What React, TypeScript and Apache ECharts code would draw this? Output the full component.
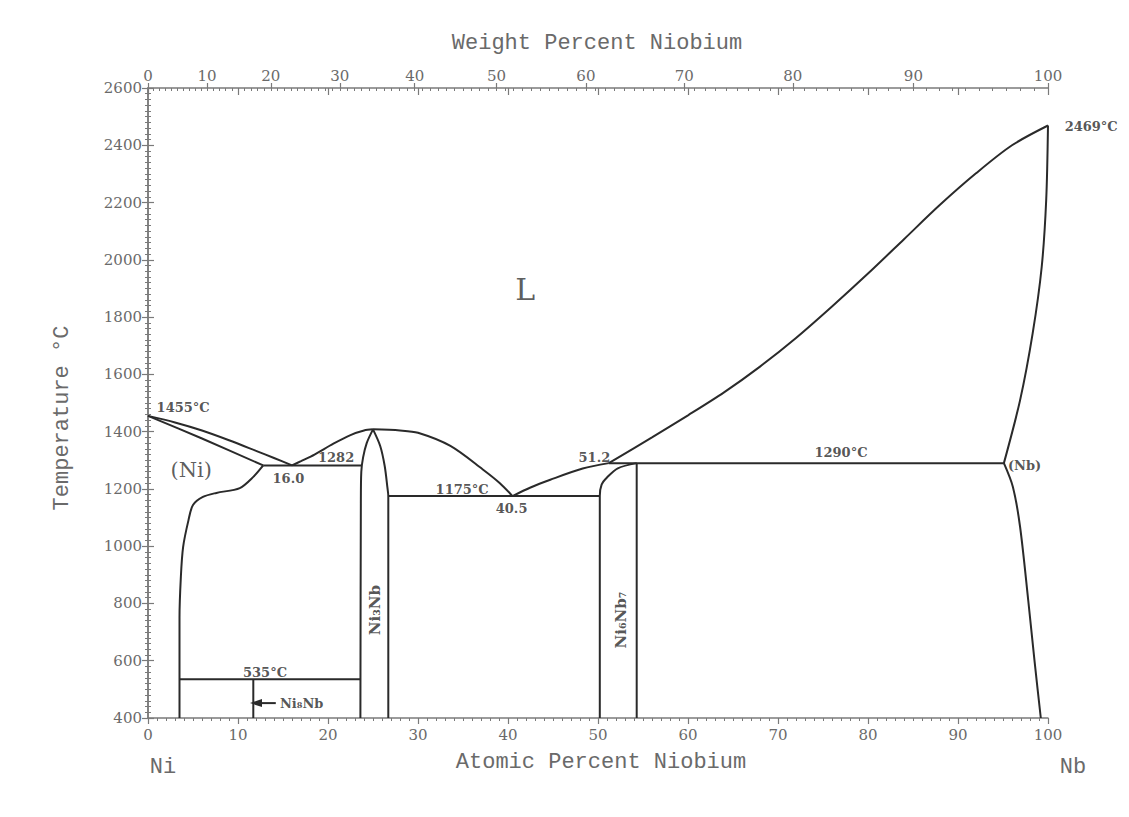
import React, { useEffect, useRef } from "react";
import * as echarts from "echarts";

// Ni–Nb binary phase diagram: temperature (°C) against atomic percent niobium.

const M_NB = 92.906;
const M_NI = 58.693;
// weight % Nb -> atomic % Nb (used to place the top weight-percent scale)
const wtToAt = (w: number) => (100 * (w / M_NB)) / (w / M_NB + (100 - w) / M_NI);

const weightTickLabels = [0, 10, 20, 30, 40, 50, 60, 70, 80, 90, 100];
const weightMinorTicks = Array.from({ length: 99 }, (_, i) => i + 1);

// Phase boundaries, [atomic % Nb, °C]
const liquidusNi = [[0, 1455], [3, 1432], [6, 1404], [9, 1370], [12, 1333], [14, 1308], [16, 1282]];
const solidusNi = [[0, 1455], [6, 1376], [12.8, 1282]];
const solvusNi = [[12.8, 1282], [11.7, 1242], [10.2, 1203], [7.6, 1186], [6.1, 1172], [5.0, 1144], [4.5, 1091], [3.9, 997], [3.65, 892], [3.5, 750], [3.5, 400]];
const eutectic1282 = [[12.8, 1282], [23.7, 1282]];
const liquidusNi3NbLeft = [[16, 1282], [17, 1297], [18.5, 1320], [20.6, 1358], [22.5, 1388], [24, 1404], [25, 1408]];
const ni3NbLeft = [[25, 1408], [24.3, 1360], [23.9, 1310], [23.7, 1260], [23.65, 1150], [23.6, 400]];
const ni3NbRight = [[25, 1408], [25.8, 1350], [26.3, 1280], [26.6, 1205], [26.7, 1175], [26.7, 1050], [26.7, 400]];
const liquidusDome = [[25, 1408], [28, 1404], [30, 1396], [33.6, 1350], [37.2, 1268], [39.1, 1220], [40.5, 1175]];
const eutectic1175 = [[26.7, 1175], [50.2, 1175]];
const liquidusEutectic = [[40.5, 1175], [42.5, 1205], [44.7, 1232], [48.3, 1271], [51.2, 1290]];
const liquidusNb = [[51.2, 1290], [56, 1380], [60, 1457], [64, 1537], [68, 1627], [72, 1727], [76, 1837], [80, 1952], [84, 2072], [88, 2192], [92, 2302], [96, 2400], [100, 2469]];
const ni6Nb7Left = [[50.2, 400], [50.2, 1060], [50.2, 1175], [50.4, 1215], [51, 1240], [52.2, 1272], [54.3, 1290]];
const ni6Nb7Right = [[54.3, 1290], [54.3, 400]];
const peritectic1290 = [[51.2, 1290], [95.1, 1290]];
const solidusNb = [[95.1, 1290], [96.9, 1510], [98.3, 1744], [99.3, 1975], [99.8, 2209], [100, 2469]];
const solvusNb = [[95.1, 1290], [96.1, 1207], [96.9, 1067], [97.8, 812], [98.5, 600], [99.2, 400]];
const eutectoid535 = [[3.5, 535], [23.6, 535]];
const ni8Nb = [[11.7, 535], [11.7, 400]];

const curvedBoundaries = [liquidusNi, solidusNi, solvusNi, liquidusNi3NbLeft, ni3NbLeft, ni3NbRight, liquidusDome, liquidusEutectic, liquidusNb, ni6Nb7Left, solidusNb, solvusNb];
const straightBoundaries = [eutectic1282, eutectic1175, ni6Nb7Right, peritectic1290, eutectoid535, ni8Nb];

// Annotations: [text, atomic %, °C, fontSize, rotate]
const annotations: [string, number, number, number, number][] = [
  ["1455°C", 3.9, 1484, 13, 0],
  ["16.0", 15.6, 1238, 13, 0],
  ["1282", 20.9, 1309, 13, 0],
  ["Ni₃Nb", 25.2, 777, 15, 90],
  ["1175°C", 34.9, 1197, 13, 0],
  ["40.5", 40.4, 1133, 13, 0],
  ["51.2", 49.6, 1309, 13, 0],
  ["Ni₆Nb₇", 52.5, 742, 15, 90],
  ["1290°C", 77.0, 1326, 13, 0],
  ["(Nb)", 97.4, 1283, 13, 0],
  ["2469°C", 104.8, 2466, 13, 0],
  ["535°C", 13.0, 560, 13, 0],
];
const phaseLabels: [string, number, number, number][] = [
  ["L", 41.9, 1895, 30],
  ["(Ni)", 4.8, 1266, 21],
];
const ni8NbArrow = [[14.2, 452], [12.0, 452]];
const ni8NbLabel: [string, number, number] = ["Ni₈Nb", 14.6, 452];

const AXIS_GRAY = "#7a7a7a";
const LABEL_GRAY = "#6a6a6a";
const INK = "#2a2a2a";
const SERIF = "DejaVu Serif";
const MONO = "Liberation Mono";

export default function App() {
  const ref = useRef<HTMLDivElement>(null);

  useEffect(() => {
    if (!ref.current) return;
    const chart = echarts.init(ref.current, null, { renderer: "svg" });

    const weightPositions = weightTickLabels.map(wtToAt);
    const weightLabelFor = (v: number) => {
      let best = 0;
      weightPositions.forEach((p, i) => {
        if (Math.abs(p - v) < Math.abs(weightPositions[best] - v)) best = i;
      });
      return String(weightTickLabels[best]);
    };

    const lineSeries = (data: number[][], smooth: boolean) => ({
      type: "line",
      data,
      smooth: smooth ? 0.3 : false,
      symbol: "none",
      lineStyle: { color: INK, width: 2 },
      clip: false,
      silent: true,
    });

    const option: any = {
      animation: false,
      backgroundColor: "#ffffff",
      grid: { left: 148, right: 81, top: 88, bottom: 99 },
      xAxis: [
        {
          type: "value", position: "bottom", min: 0, max: 100, interval: 10,
          axisLine: { lineStyle: { color: AXIS_GRAY, width: 1.5 } },
          axisTick: { length: 6, lineStyle: { color: AXIS_GRAY, width: 1.2 } },
          minorTick: { show: true, splitNumber: 10, length: 3, lineStyle: { color: AXIS_GRAY } },
          axisLabel: { color: LABEL_GRAY, fontFamily: SERIF, fontSize: 15, margin: 9, formatter: (v: number) => String(v) },
          splitLine: { show: false },
        },
        {
          type: "value", position: "top", min: 0, max: 100,
          axisLine: { lineStyle: { color: AXIS_GRAY, width: 1.5 } },
          axisTick: { customValues: weightPositions, length: 5, lineStyle: { color: AXIS_GRAY, width: 1.2 } },
          axisLabel: { customValues: weightPositions, formatter: (v: number) => weightLabelFor(v), color: LABEL_GRAY, fontFamily: SERIF, fontSize: 15, margin: 5 },
          splitLine: { show: false },
        },
        {
          type: "value", position: "top", min: 0, max: 100, interval: 10,
          axisLine: { show: false },
          axisTick: { inside: true, length: 7, lineStyle: { color: AXIS_GRAY, width: 1.2 } },
          axisLabel: { show: false },
          splitLine: { show: false },
        },
        {
          type: "value", position: "top", min: 0, max: 100,
          axisLine: { show: false },
          axisTick: { inside: true, customValues: weightMinorTicks.map(wtToAt), length: 3, lineStyle: { color: AXIS_GRAY, width: 1 } },
          axisLabel: { show: false },
          splitLine: { show: false },
        },
      ],
      yAxis: [
        {
          type: "value", position: "left", min: 400, max: 2600, interval: 200,
          axisLine: { show: true, lineStyle: { color: AXIS_GRAY, width: 1.5 } },
          axisTick: { show: true, length: 6, lineStyle: { color: AXIS_GRAY, width: 1.2 } },
          minorTick: { show: true, splitNumber: 10, length: 3, lineStyle: { color: AXIS_GRAY } },
          axisLabel: { color: LABEL_GRAY, fontFamily: SERIF, fontSize: 15, margin: 6, formatter: (v: number) => String(v) },
          splitLine: { show: false },
        },
        {
          type: "value", position: "right", min: 400, max: 2600, interval: 200,
          axisLine: { show: true, lineStyle: { color: AXIS_GRAY, width: 1.5 } },
          axisTick: { show: true, length: 6, lineStyle: { color: AXIS_GRAY, width: 1.2 } },
          minorTick: { show: true, splitNumber: 10, length: 3, lineStyle: { color: AXIS_GRAY } },
          axisLabel: { show: false },
          splitLine: { show: false },
        },
      ],
      series: [
        ...curvedBoundaries.map((d) => lineSeries(d, true)),
        ...straightBoundaries.map((d) => lineSeries(d, false)),
        {
          type: "line",
          data: [
            { value: ni8NbArrow[0], symbol: "none" },
            { value: ni8NbArrow[1], symbol: "triangle", symbolSize: [8, 12], symbolRotate: 90 },
          ],
          lineStyle: { color: INK, width: 2 },
          itemStyle: { color: INK },
          silent: true,
          clip: false,
        },
        {
          type: "scatter",
          symbolSize: 1,
          itemStyle: { color: "rgba(0,0,0,0)" },
          clip: false,
          silent: true,
          data: [
            ...annotations.map(([text, x, t, size, rot]) => ({
              value: [x, t],
              label: { show: true, position: "inside", formatter: text, rotate: rot, fontFamily: SERIF, fontWeight: "bold", fontSize: size, color: INK },
            })),
            ...phaseLabels.map(([text, x, t, size]) => ({
              value: [x, t],
              label: { show: true, position: "inside", formatter: text, fontFamily: SERIF, fontSize: size, color: "#333" },
            })),
            {
              value: [ni8NbLabel[1], ni8NbLabel[2]],
              label: { show: true, position: "right", distance: 0, formatter: ni8NbLabel[0], fontFamily: SERIF, fontWeight: "bold", fontSize: 13, color: INK },
            },
          ],
        },
      ],
      graphic: [
        { type: "text", x: 597, y: 43, style: { text: "Weight Percent Niobium", font: `22px '${MONO}'`, fill: LABEL_GRAY, textAlign: "center", textVerticalAlign: "middle" } },
        { type: "text", x: 601, y: 762, style: { text: "Atomic Percent Niobium", font: `22px '${MONO}'`, fill: LABEL_GRAY, textAlign: "center", textVerticalAlign: "middle" } },
        { type: "text", x: 163, y: 767, style: { text: "Ni", font: `22px '${MONO}'`, fill: LABEL_GRAY, textAlign: "center", textVerticalAlign: "middle" } },
        { type: "text", x: 1073, y: 767, style: { text: "Nb", font: `22px '${MONO}'`, fill: LABEL_GRAY, textAlign: "center", textVerticalAlign: "middle" } },
        { type: "text", x: 62, y: 418, rotation: Math.PI / 2, style: { text: "Temperature °C", font: `22px '${MONO}'`, fill: LABEL_GRAY, textAlign: "center", textVerticalAlign: "middle" } },
      ],
    };

    chart.setOption(option);
    return () => chart.dispose();
  }, []);

  return <div ref={ref} style={{ position: "absolute", left: 0, top: 0, width: 1129, height: 817 }} />;
}
